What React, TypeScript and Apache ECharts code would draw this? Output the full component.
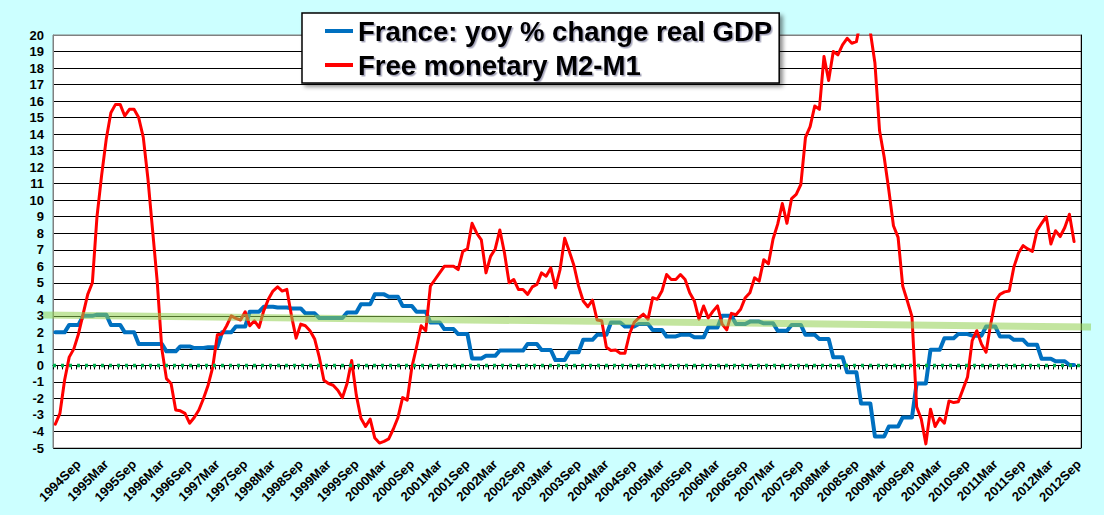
import React, { useEffect, useRef } from "react";
import * as echarts from "echarts";

// Monthly categories: 1994 Apr .. 2012 Sep
const START_YEAR = 1994;
const START_MONTH = 3; // April (0-based)
const MONTH_COUNT = 222;
const MONTH_NAMES = ["Jan", "Feb", "Mar", "Apr", "May", "Jun", "Jul", "Aug", "Sep", "Oct", "Nov", "Dec"];
const MONTHS: string[] = [];
for (let i = 0; i < MONTH_COUNT; i++) {
  const m = START_MONTH + i;
  MONTHS.push(`${START_YEAR + Math.floor(m / 12)}${MONTH_NAMES[m % 12]}`);
}

// Free monetary M2-M1, yoy % (monthly, 1994 Apr .. 2012 Aug)
const M2M1 = [
  -3.56, -2.9, -0.9, 0.5, 1.0, 1.9, 3.1, 4.3, 5.0, 9.0,
  11.5, 13.7, 15.3, 15.8, 15.8, 15.1, 15.5, 15.5, 15.0, 13.8,
  11.3, 8.2, 5.1, 1.0, -0.8, -1.1, -2.7, -2.75, -2.9, -3.5,
  -3.15, -2.7, -2.0, -1.2, -0.1, 1.85, 1.9, 2.4, 3.0, 2.85,
  2.75, 3.25, 2.4, 2.7, 2.3, 3.3, 4.0, 4.5, 4.75, 4.5,
  4.6, 3.0, 1.65, 2.5, 2.4, 2.1, 1.6, 0.5, -0.9, -1.1,
  -1.2, -1.5, -1.95, -1.1, 0.3, -1.8, -3.2, -3.7, -3.25, -4.4,
  -4.7, -4.6, -4.45, -3.85, -3.15, -1.95, -2.1, -0.1, 1.1, 2.4,
  2.1, 4.8, 5.2, 5.6, 6.0, 6.0, 6.0, 5.8, 6.9, 7.05,
  8.6, 8.0, 7.6, 5.6, 6.6, 7.05, 8.2, 6.8, 5.0, 5.2,
  4.6, 4.6, 4.3, 4.75, 4.9, 5.6, 5.4, 5.9, 4.7, 5.8,
  7.7, 6.9, 6.05, 4.8, 3.9, 3.55, 3.95, 2.75, 2.7, 1.1,
  0.9, 0.93, 0.73, 0.73, 1.9, 2.6, 2.87, 3.1, 2.8, 4.1,
  4.0, 4.5, 5.5, 5.2, 5.2, 5.5, 5.2, 4.4, 3.9, 2.8,
  3.6, 2.87, 3.27, 3.6, 2.5, 2.15, 3.15, 3.07, 3.4, 4.1,
  4.4, 5.3, 5.1, 6.4, 6.15, 7.65, 8.55, 9.8, 8.6, 10.1,
  10.35, 10.95, 13.8, 14.45, 15.7, 15.5, 18.7, 17.25, 19.0, 18.8,
  19.4, 19.8, 19.5, 19.6, 21.0, 21.5, 20.2, 18.3, 14.2, 12.6,
  10.6, 8.45, 7.75, 4.8, 3.9, 2.95, -2.5, -3.25, -4.75, -2.65,
  -3.7, -3.2, -3.5, -2.15, -2.25, -2.2, -1.45, -0.7, 1.5, 2.1,
  1.3, 0.8, 2.5, 3.9, 4.3, 4.45, 4.5, 5.95, 6.8, 7.25,
  7.05, 6.9, 8.15, 8.6, 9.0, 7.35, 8.15, 7.8, 8.35, 9.15, 7.5,
];

// France real GDP yoy % (quarterly, 1994Q2 .. 2012Q3), shown on each month of its quarter
const GDP_Q = [
  2.0, 2.45, 3.0, 3.07, 2.45, 2.0, 1.3, 1.3, 0.85, 1.15,
  1.05, 1.1, 2.0, 2.35, 3.25, 3.55, 3.5, 3.45, 3.15, 2.87,
  2.87, 3.2, 3.7, 4.3, 4.15, 3.6, 3.25, 2.6, 2.2, 1.9,
  0.42, 0.58, 0.9, 0.9, 1.3, 0.93, 0.32, 0.8, 1.55, 1.85,
  2.6, 2.35, 2.5, 2.15, 1.75, 1.85, 1.7, 2.3, 3.0, 2.5,
  2.65, 2.55, 2.1, 2.45, 1.85, 1.6, 0.5, -0.42, -2.3, -4.3,
  -3.7, -3.15, -1.1, 0.95, 1.65, 1.9, 1.8, 2.35, 1.75, 1.55,
  1.25, 0.4, 0.25, 0.02,
];

// Hand-drawn trend band (value at left end, value at right end)
const TREND = [3.05, 2.32];
// Zero reference line (value at left edge, value at right edge)
const ZERO_LINE = [0, 0];

const Y_MIN = -5;
const Y_MAX = 20;

const GDP_NAME = "France: yoy % change real GDP";
const M2_NAME = "Free monetary M2-M1";

const FONT = 'Arial, "Liberation Sans", sans-serif';

export default function App() {
  const ref = useRef<HTMLDivElement>(null);

  useEffect(() => {
    if (!ref.current) return;
    const chart = echarts.init(ref.current, null, { renderer: "svg" });

    const gdpMonthly = MONTHS.map((_, i) => (i < M2M1.length ? GDP_Q[Math.floor(i / 3)] : null));
    const lineCount = Y_MAX - Y_MIN + 1;
    const splitColors: string[] = [];
    for (let k = 0; k < lineCount; k++) splitColors.push(k === lineCount - 1 ? "#808080" : "#000000");

    const plotBox = { left: 53, right: 23, top: 35, bottom: 67 };

    chart.setOption({
      animation: false,
      backgroundColor: "#CCFFFF",
      textStyle: { fontFamily: FONT },
      grid: [
        {
          ...plotBox,
          show: true,
          backgroundColor: "#ffffff",
          borderColor: "#808080",
          borderWidth: 1,
        },
        { left: 43, right: 13, top: 35, bottom: 67, show: false },
        { ...plotBox, show: false },
      ],
      legend: {
        data: [GDP_NAME, M2_NAME],
        orient: "vertical",
        left: 302,
        top: 13,
        padding: [4, 7, 4, 23],
        itemGap: 6,
        itemWidth: 28,
        itemHeight: 4,
        icon: "rect",
        backgroundColor: "#ffffff",
        borderColor: "#000000",
        borderWidth: 1.5,
        borderRadius: 0,
        shadowBlur: 4,
        shadowColor: "rgba(0,0,0,0.45)",
        shadowOffsetX: 3,
        shadowOffsetY: 3,
        textStyle: {
          fontFamily: FONT,
          fontSize: 27.5,
          fontWeight: "bold",
          color: "#000000",
          textShadowColor: "rgba(0,0,60,0.35)",
          textShadowBlur: 1,
          textShadowOffsetX: 1.5,
          textShadowOffsetY: 1.5,
        },
      },
      xAxis: [
        {
          type: "category",
          gridIndex: 0,
          data: MONTHS,
          boundaryGap: true,
          axisLine: { show: true, lineStyle: { color: "#000000", width: 1 } },
          axisTick: { show: true, interval: 0, length: 4, lineStyle: { color: "#000000" } },
          axisLabel: {
            interval: (_i: number, v: string) => /Mar$|Sep$/.test(v),
            rotate: 45,
            margin: 14,
            fontFamily: FONT,
            fontSize: 13,
            fontWeight: "bold",
            color: "#000000",
          },
          splitLine: { show: false },
        },
        { type: "value", gridIndex: 1, min: 0, max: 1, show: false },
        { type: "value", gridIndex: 2, min: 0, max: 1, show: false },
      ],
      yAxis: [
        {
          type: "value",
          gridIndex: 0,
          min: Y_MIN,
          max: Y_MAX,
          interval: 1,
          axisLine: { show: true, lineStyle: { color: "#808080", width: 1 } },
          axisTick: { show: false },
          axisLabel: {
            margin: 9,
            fontFamily: FONT,
            fontSize: 13,
            fontWeight: "bold",
            color: "#000000",
          },
          splitLine: { show: true, lineStyle: { color: splitColors, width: 1 } },
        },
        {
          type: "value",
          gridIndex: 0,
          position: "right",
          min: Y_MIN,
          max: Y_MAX,
          interval: 1,
          axisLine: { show: true, lineStyle: { color: "#000000", width: 1 } },
          axisTick: { show: false },
          axisLabel: { show: false },
          splitLine: { show: false },
        },
        { type: "value", gridIndex: 1, min: Y_MIN, max: Y_MAX, show: false },
        { type: "value", gridIndex: 2, min: Y_MIN, max: Y_MAX, show: false },
      ],
      series: [
        {
          name: GDP_NAME,
          type: "line",
          xAxisIndex: 0,
          yAxisIndex: 0,
          data: gdpMonthly,
          symbol: "none",
          color: "#0070C0",
          lineStyle: { color: "#0070C0", width: 4, join: "round", cap: "round" },
          z: 2,
        },
        {
          name: M2_NAME,
          type: "line",
          xAxisIndex: 0,
          yAxisIndex: 0,
          data: M2M1,
          symbol: "none",
          color: "#FF0000",
          clip: true,
          lineStyle: { color: "#FF0000", width: 3, join: "round", cap: "round" },
          z: 3,
        },
        {
          name: "zero",
          type: "line",
          xAxisIndex: 2,
          yAxisIndex: 3,
          data: [
            [0, ZERO_LINE[0]],
            [1, ZERO_LINE[1]],
          ],
          symbol: "none",
          silent: true,
          color: "#00B050",
          lineStyle: { color: "#00B050", width: 3.5, type: [3, 5], dashOffset: 0, cap: "butt" },
          z: 4,
        },
        {
          name: "trend",
          type: "line",
          xAxisIndex: 1,
          yAxisIndex: 2,
          data: [
            [0, TREND[0]],
            [1, TREND[1]],
          ],
          symbol: "none",
          silent: true,
          clip: false,
          lineStyle: { color: "rgba(146,208,80,0.55)", width: 7 },
          z: 5,
        },
      ],
    });

    return () => chart.dispose();
  }, []);

  return (
    <div
      ref={ref}
      style={{ position: "absolute", left: 0, top: 0, width: 1104, height: 515 }}
    />
  );
}
